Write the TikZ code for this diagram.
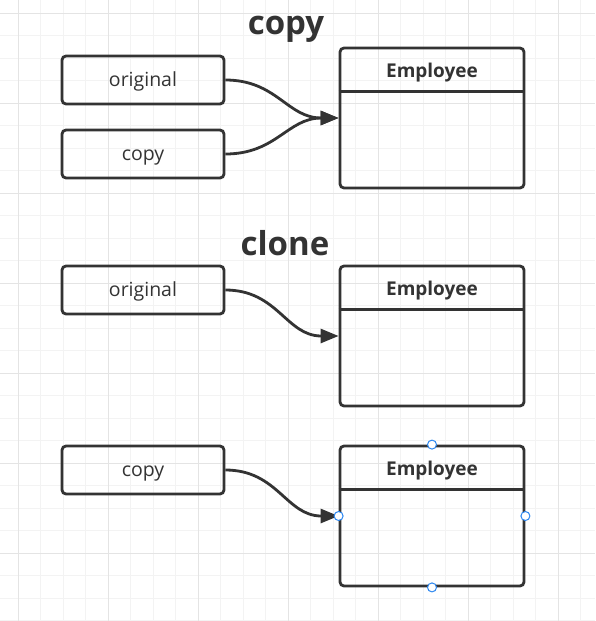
\documentclass[tikz,border=0pt]{standalone}
\usepackage{fontspec}
\setmainfont{Open Sans}
\usetikzlibrary{arrows.meta}
\definecolor{ink}{HTML}{333333}
\definecolor{gridminor}{HTML}{F3F3F3}
\definecolor{gridmajor}{HTML}{E4E4E4}
\definecolor{handle}{HTML}{2B86F0}
\tikzset{
  refbox/.style={draw=ink, line width=2.8pt, rounded corners=4pt, minimum width=162pt, minimum height=48pt, inner sep=0pt, font=\fontsize{19.5}{22}\selectfont, text=ink, text height=13pt, text depth=0pt},
  entbox/.style={draw=ink, line width=2.8pt, rounded corners=4pt, minimum width=184pt, minimum height=140pt, inner sep=0pt},
  hdr/.style={font=\fontsize{19}{22}\selectfont\bfseries, text=ink, inner sep=0pt, text height=13pt, text depth=0pt},
  title/.style={font=\fontsize{33}{36}\selectfont\bfseries, text=ink, inner sep=0pt},
  divline/.style={draw=ink, line width=2.8pt},
  conn/.style={draw=ink, line width=2.8pt, -{Triangle[length=18pt,width=14pt]}, out=0, in=180, looseness=1.1},
  handlept/.style={circle, draw=handle, fill=white, line width=1pt, minimum size=9pt, inner sep=0pt}
}
\begin{document}
\begin{tikzpicture}[x=1pt,y=-1pt]
\useasboundingbox (0,0) rectangle (595,621);
\fill[white] (0,0) rectangle (595,621);
% grid
\foreach \i in {0,...,25} {
  \pgfmathsetmacro\xx{18+22.5*\i}
  \draw[gridminor, line width=1pt] (\xx,0) -- (\xx,621);
}
\foreach \i in {0,...,27} {
  \pgfmathsetmacro\yy{13+22.5*\i}
  \draw[gridminor, line width=1pt] (0,\yy) -- (595,\yy);
}
\foreach \i in {0,4,...,24} {
  \pgfmathsetmacro\xx{18+22.5*\i}
  \draw[gridmajor, line width=1pt] (\xx,0) -- (\xx,621);
}
\foreach \i in {0,4,...,24} {
  \pgfmathsetmacro\yy{13+22.5*\i}
  \draw[gridmajor, line width=1pt] (0,\yy) -- (595,\yy);
}
% section copy
\node[title] (t1) at (286,29) {copy};
\node[refbox] (o1) at (143,80) {original};
\node[refbox] (c1) at (143,154) {copy};
\node[entbox] (e1) at (432,118) {};
\node[hdr] (h1) at (432,71) {Employee};
\draw[divline] ([yshift=-45pt]e1.north west) -- ([yshift=-45pt]e1.north east);
\draw[conn] (o1.east) to (e1.west);
\draw[conn] (c1.east) to (e1.west);
% section clone
\node[title] (t2) at (285,243) {clone};
\node[refbox] (o2) at (143,290) {original};
\node[entbox] (e2) at (432,336) {};
\node[hdr] (h2) at (432,289) {Employee};
\draw[divline] ([yshift=-45pt]e2.north west) -- ([yshift=-45pt]e2.north east);
\draw[conn] (o2.east) to (e2.west);
\node[refbox] (c3) at (143,470) {copy};
\node[entbox] (e3) at (432,516) {};
\node[hdr] (h3) at (432,469) {Employee};
\draw[divline] ([yshift=-45pt]e3.north west) -- ([yshift=-45pt]e3.north east);
\draw[conn] (c3.east) to (e3.west);
\node[handlept] (p1) at (e3.north) {};
\node[handlept] (p2) at (e3.west) {};
\node[handlept] (p3) at (e3.east) {};
\node[handlept] (p4) at (e3.south) {};
\end{tikzpicture}
\end{document}
